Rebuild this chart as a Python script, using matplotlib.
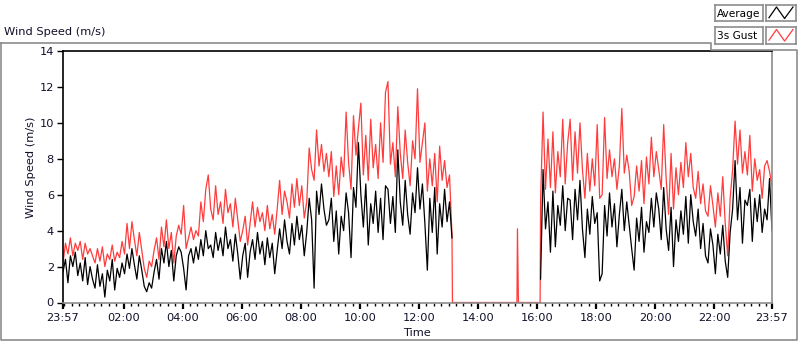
import numpy as np
import matplotlib
matplotlib.use('Agg')
import matplotlib.pyplot as plt
from matplotlib.lines import Line2D

# minutes after 23:57 (previous day), sampled every 5 min
t_before = np.arange(0, 791, 5)      # 23:57 .. 13:07
t_gap = [791, 922, 923, 924, 925, 969]  # logger outage, gust channel reads 0
t_after = np.arange(970, 1441, 5)    # 16:07 .. 23:57

avg_before = [
    1.7, 2.4, 1.1, 2.6, 2.0, 2.8, 1.5, 2.2, 1.2, 2.5, 1.0, 2.0,
    1.3, 0.8, 2.1, 0.9, 1.6, 0.3, 1.8, 1.2, 2.4, 0.7, 1.9, 1.4,
    2.2, 1.6, 2.7, 1.9, 3.0, 2.1, 1.3, 2.6, 1.8, 0.9, 0.6, 1.1,
    0.8, 1.7, 2.4, 1.3, 3.0, 2.2, 3.4, 2.0, 2.9, 1.2, 2.6, 3.1,
    2.8, 1.9, 0.7, 2.6, 3.0, 2.2, 3.1, 2.4, 3.5, 2.6, 4.0, 3.0,
    3.2, 2.5, 3.9, 2.9, 3.6, 2.6, 4.2, 3.0, 3.5, 2.3, 3.8, 2.7,
    1.3, 2.6, 3.3, 1.4, 2.8, 3.5, 2.4, 3.9, 2.7, 3.4, 2.1, 3.6,
    2.5, 3.3, 1.6, 2.9, 4.1, 3.0, 4.6, 3.4, 2.7, 4.4, 3.2, 4.8,
    3.5, 4.3, 2.6, 3.9, 5.8, 4.6, 0.8, 6.2, 4.9, 6.6, 5.2, 4.3,
    4.6, 5.8, 3.4, 5.1, 2.7, 4.8, 4.0, 6.1, 5.0, 2.5, 6.4, 5.3,
    8.9, 6.0, 4.2, 6.6, 3.2, 5.5, 4.4, 6.2, 3.9, 5.8, 3.5, 6.5,
    6.3, 4.4, 5.9, 3.9, 8.5, 5.6, 4.3, 6.8, 4.9, 3.8, 6.1, 5.0,
    7.5, 5.2, 6.6, 4.4, 1.8, 5.8, 3.9, 6.4, 2.7, 5.5, 4.2, 6.3,
    4.5, 5.6, 3.6,
]
gust_before = [
    2.2, 3.3, 2.7, 3.6, 2.6, 3.3, 2.9, 3.4, 2.4, 3.3, 2.7, 3.0,
    2.6, 2.2, 3.0, 2.3, 3.1, 2.0, 2.7, 2.4, 3.2, 2.3, 2.8, 2.5,
    3.4, 2.7, 4.4, 3.0, 4.5, 3.5, 2.6, 3.9, 2.9, 1.9, 1.4, 2.3,
    2.0, 2.9, 3.6, 2.4, 4.2, 3.1, 4.6, 3.0, 3.9, 2.2, 3.7, 4.3,
    3.8, 5.4, 3.0, 3.6, 4.2, 3.5, 4.0, 3.7, 5.6, 4.5, 6.3, 7.1,
    5.2, 4.6, 6.5, 4.9, 5.6, 4.4, 6.3, 5.0, 5.5, 4.2, 5.8, 4.6,
    3.4, 4.0, 4.8, 3.2, 4.4, 5.6, 4.2, 5.3, 4.5, 5.0, 4.0, 5.4,
    4.1, 4.9, 3.8, 5.2, 6.8, 4.9, 6.2, 5.6, 4.7, 6.6, 5.3, 6.9,
    5.4, 6.5, 4.7, 5.6, 8.6, 7.4, 6.8, 9.6, 7.6, 8.8, 7.3, 8.3,
    7.0, 8.4, 5.9, 7.6, 6.0, 8.1, 7.0, 10.6, 7.8, 6.3, 10.4, 8.2,
    9.7, 11.1, 7.1, 9.3, 6.8, 10.2, 7.5, 8.8, 6.9, 10.0, 7.8, 11.7,
    12.3, 7.7, 8.9, 7.0, 10.9, 8.3, 6.9, 9.6, 7.8, 6.5, 9.0, 8.0,
    11.9, 7.8, 8.9, 10.0, 6.2, 8.0, 6.5, 8.3, 5.6, 8.7, 6.8, 7.9,
    6.4, 7.1, 3.8,
]
gust_gap = [0, 0, 4.1, 2.0, 0, 0]
avg_after = [
    1.3, 7.4, 4.1, 5.6, 2.8, 6.2, 3.1, 5.4, 4.3, 6.5, 4.0, 5.8,
    5.7, 3.5, 6.3, 4.6, 6.8, 4.1, 2.5, 5.2, 3.8, 5.9, 4.4, 5.0,
    1.2, 1.6, 5.4, 3.7, 6.1, 4.2, 5.5, 3.1, 4.9, 6.3, 4.0, 5.6,
    4.3, 3.0, 1.8, 4.7, 3.4, 5.3, 2.8, 4.5, 3.9, 5.8, 4.2, 6.1,
    5.2, 3.5, 6.4, 4.1, 2.9, 5.3, 2.0, 4.6, 3.4, 5.1, 3.8, 5.9,
    3.3, 6.0, 4.5, 3.7, 5.2, 3.0, 4.4, 2.6, 2.2, 4.1, 3.2, 1.6,
    3.8, 2.7, 4.3, 2.3, 1.4, 3.9, 5.2, 7.9, 4.6, 6.4, 3.3, 5.7,
    5.4, 6.3, 3.4, 5.8, 4.5, 6.0, 3.9, 5.2, 4.6, 6.9, 4.0,
]
gust_after = [
    5.7, 10.6, 6.3, 9.1, 6.4, 9.5, 6.1, 8.4, 7.0, 10.2, 6.6, 8.9,
    10.2, 6.8, 9.5, 7.2, 10.0, 7.4, 5.8, 8.3, 6.2, 8.0, 6.5, 9.9,
    5.8, 6.0, 10.3, 6.9, 8.5, 7.0, 8.0, 6.3, 7.6, 10.8, 7.2, 8.2,
    7.3, 5.4, 5.9, 7.6, 6.2, 7.9, 5.5, 8.1, 6.6, 9.2, 7.0, 8.4,
    7.4, 6.3, 9.9, 6.9, 4.9, 8.3, 5.2, 7.5, 6.0, 7.8, 6.4, 8.9,
    7.0, 8.3, 6.4, 5.8, 7.3, 5.5, 6.6, 5.1, 4.8, 6.5, 5.4, 4.2,
    6.1, 4.8, 7.0, 4.4, 2.6, 5.8, 7.4, 10.1, 7.7, 9.6, 7.2, 8.4,
    7.1, 9.3, 6.2, 8.0, 6.8, 7.4, 5.8, 7.6, 7.9, 7.3, 6.5,
]

tick_pos = [0, 123, 243, 363, 483, 603, 723, 843, 963, 1083, 1203, 1323, 1440]
tick_lbl = ['23:57', '02:00', '04:00', '06:00', '08:00', '10:00', '12:00',
            '14:00', '16:00', '18:00', '20:00', '22:00', '23:57']

t = np.concatenate([t_before, t_gap, t_after])
avg = np.concatenate([avg_before, [np.nan] * len(t_gap), avg_after])
gust = np.concatenate([gust_before, gust_gap, gust_after])

W, H = 800, 342
TXT = '#10102a'
plt.rcParams['font.family'] = 'DejaVu Sans'

fig = plt.figure(figsize=(W / 100, H / 100), dpi=100)
fig.patch.set_facecolor('white')

def fx(px):
    return px / W

def fy(py):
    return 1 - py / H

ax = fig.add_axes([fx(63), fy(302.5), fx(772) - fx(63), fy(51) - fy(302.5)])
ax.plot(t, gust, color='#ff3c3c', lw=0.9)
ax.plot(t, avg, color='black', lw=0.9)
ax.set_xlim(0, 1440)
ax.set_ylim(0, 14)

ax.set_yticks(np.arange(0, 15, 2))
ax.set_xticks(tick_pos)
ax.set_xticklabels(tick_lbl)
ax.set_xticks(np.arange(3, 1440, 15), minor=True)
ax.tick_params(axis='both', which='major', direction='out', length=4.5, width=1,
               color='black', labelsize=8.2, labelcolor=TXT, pad=2)
ax.tick_params(axis='x', which='minor', direction='out', length=2.5, width=1, color='black')
ax.tick_params(axis='x', which='major', width=1.6, pad=3)

for s in ['top', 'left']:
    ax.spines[s].set_color('black')
for s in ['right', 'bottom']:
    ax.spines[s].set_color('#8c8c8c')
for s in ax.spines.values():
    s.set_linewidth(1.2)

ax.set_ylabel('Wind Speed (m/s)', fontsize=8.2, color=TXT)
ax.yaxis.set_label_coords((36 - 63) / 709, (302.5 - 167.5) / 251.5)
ax.set_xlabel('Time', fontsize=8.2, color=TXT)
ax.xaxis.set_label_coords((417 - 63) / 709, -(333 - 302.5) / 251.5)
ax.xaxis.label.set_va('center')

# outer chart frame
frame = [[(1, 42.5), (711, 42.5), (711, 49.5), (797, 49.5), (797, 340), (1, 340), (1, 42.5)]]
for pts in frame:
    xs = [fx(p[0]) for p in pts]
    ys = [fy(p[1]) for p in pts]
    fig.add_artist(Line2D(xs, ys, color='#8c8c8c', lw=1.2))

fig.text(fx(4), fy(32), 'Wind Speed (m/s)', fontsize=8.2, color=TXT, va='center', ha='left')

# legend boxes
legend_rows = [('Average', 'black', 4.5), ('3s Gust', '#ff3c3c', 27)]
for name, col, top in legend_rows:
    lab = fig.add_axes([fx(715), fy(top + 16.5), fx(763) - fx(715), fy(top) - fy(top + 16.5)])
    sw = fig.add_axes([fx(766), fy(top + 16.5), fx(796) - fx(766), fy(top) - fy(top + 16.5)])
    for a in (lab, sw):
        a.set_xticks([])
        a.set_yticks([])
        a.set_xlim(0, 1)
        a.set_ylim(0, 1)
        for s in a.spines.values():
            s.set_color('#8c8c8c')
            s.set_linewidth(1.2)
    lab.text(0.05, 0.45, name, fontsize=7.6, color='black', va='center', ha='left')
    sw.plot([0.1, 0.35, 0.62, 0.9], [0.2, 0.85, 0.15, 0.85], color=col, lw=0.9)

fig.savefig('out.png', dpi=100)
